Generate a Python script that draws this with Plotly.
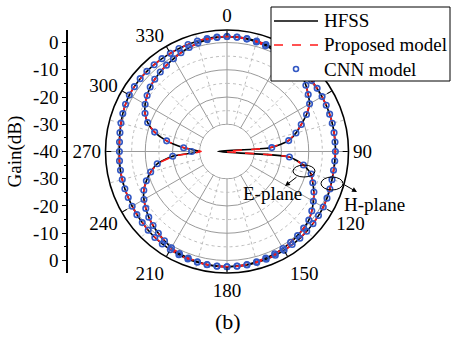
import plotly.graph_objects as go

W, H = 458, 339
FONT = "Liberation Serif"

# ---------------- data ----------------
theta = list(range(0, 365, 5))  # 0..360 deg, 5 deg step

hfss_H = [2.2, 2.2, 2.1, 2.0, 1.8, 1.6, 1.4, 1.2, 0.9, 0.7, 0.5, 0.4, 0.3, 0.2, 0.1, 0.0,
          -0.1, -0.2, -0.2, -0.3, -0.3, -0.1, 0.2, 0.5, 0.8, 1.0, 1.2, 1.4, 1.6, 1.7, 1.9,
          2.0, 2.1, 2.2, 2.3, 2.3, 2.3, 2.3, 2.2, 2.1, 2.0, 1.8, 1.6, 1.4, 1.2, 0.9, 0.6,
          0.4, 0.2, 0.0, -0.1, -0.2, -0.3, -0.4, -0.5, -0.4, -0.1, 0.3, 0.7, 1.1, 1.4, 1.5,
          1.6, 1.6, 1.6, 1.6, 1.6, 1.7, 1.8, 2.0, 2.1, 2.2, 2.2]
hfss_E = [2.2, 2.1, 1.9, 1.6, 1.3, 1.0, 0.7, 0.4, 0.0, -0.9, -2.2, -3.6, -5.0, -7.8, -11.0,
          -13.8, -17.0, -24.0, -43.3, -17.0, -11.5, -8.0, -6.5, -4.8, -3.4, -2.0, -0.8, -0.2,
          0.3, 0.7, 1.1, 1.4, 1.6, 1.9, 2.1, 2.2, 2.3, 2.2, 2.1, 1.9, 1.6, 1.3, 0.8, 0.0,
          -0.8, -1.6, -2.5, -3.6, -4.8, -6.3, -8.5, -11.0, -14.0, -20.0, -30.0, -24.0, -17.5,
          -12.5, -9.0, -6.8, -5.3, -4.2, -3.2, -2.5, -1.9, -1.3, -0.7, 0.0, 0.6, 1.2, 1.7,
          2.0, 2.2]

prop_H = [2.2, 2.2, 2.1, 2.0, 1.8, 1.6, 1.4, 1.1, 0.9, 0.7, 0.5, 0.4, 0.3, 0.2, 0.1, 0.0,
          -0.1, -0.2, -0.3, -0.3, -0.3, -0.1, 0.2, 0.5, 0.8, 1.0, 1.2, 1.4, 1.5, 1.7, 1.9,
          2.0, 2.1, 2.2, 2.3, 2.3, 2.3, 2.3, 2.2, 2.1, 2.0, 1.8, 1.6, 1.4, 1.1, 0.9, 0.6,
          0.4, 0.2, 0.0, -0.1, -0.2, -0.3, -0.4, -0.5, -0.4, -0.1, 0.3, 0.7, 1.1, 1.4, 1.5,
          1.6, 1.6, 1.6, 1.6, 1.6, 1.7, 1.8, 2.0, 2.1, 2.2, 2.2]
prop_E = [2.2, 2.1, 1.9, 1.6, 1.3, 1.0, 0.7, 0.4, 0.0, -0.9, -2.2, -3.6, -5.1, -7.8, -11.0,
          -13.9, -17.2, -24.5, -40.5, -17.3, -11.6, -8.0, -6.5, -4.8, -3.4, -2.0, -0.8, -0.2,
          0.3, 0.7, 1.1, 1.4, 1.6, 1.9, 2.1, 2.2, 2.3, 2.2, 2.1, 1.9, 1.6, 1.3, 0.8, 0.0,
          -0.8, -1.6, -2.5, -3.6, -4.8, -6.3, -8.5, -11.1, -14.2, -20.5, -30.5, -24.3, -17.6,
          -12.5, -9.0, -6.8, -5.3, -4.2, -3.2, -2.5, -1.9, -1.3, -0.7, 0.0, 0.6, 1.2, 1.7,
          2.0, 2.2]

cnn_theta = list(range(0, 360, 5))
cnn_H = [2.2, 2.2, 2.1, 2.0, 1.8, 1.6, 1.4, 1.2, 0.9, 0.7, 0.5, 0.4, 0.3, 0.2, 0.1, 0.0,
         -0.1, -0.2, -0.2, -0.3, -0.3, -0.1, 0.2, 0.5, 0.8, 1.0, 1.2, 1.4, 1.6, 1.7, 1.9,
         2.0, 2.1, 2.2, 2.3, 2.3, 2.3, 2.3, 2.2, 2.1, 2.0, 1.8, 1.6, 1.4, 1.2, 0.9, 0.6,
         0.4, 0.2, 0.0, -0.1, -0.2, -0.3, -0.4, -0.5, -0.4, -0.1, 0.3, 0.7, 1.1, 1.4, 1.5,
         1.6, 1.6, 1.6, 1.6, 1.6, 1.7, 1.8, 2.0, 2.1, 2.2]
cnn_E = [2.2, 2.1, 1.9, 1.6, 1.3, 1.0, 0.7, 0.4, 0.0, -0.9, -2.2, -3.6, -5.0, -7.8, -11.0,
         -13.8, -17.0, -23.5, None, -17.0, -11.5, -8.0, -6.5, -4.8, -3.4, -2.0, -0.8, -0.2,
         0.3, 0.7, 1.1, 1.4, 1.6, 1.9, 2.1, 2.2, 2.3, 2.2, 2.1, 1.9, 1.6, 1.3, 0.8, 0.0,
         -0.8, -1.6, -2.5, -3.6, -4.8, -6.3, -8.5, -11.0, -14.0, -20.0, -27.0, -24.0, -17.5,
         -12.5, -9.0, -6.8, -5.3, -4.2, -3.2, -2.5, -1.9, -1.3, -0.7, 0.0, 0.6, 1.2, 1.7,
         2.0]

series_names = ["HFSS", "Proposed model", "CNN model"]
r_min, r_max = -40, 4.6
angle_ticks = [0, 30, 60, 90, 120, 150, 180, 210, 240, 270, 300, 330]
# 30 and 60 are hidden behind the legend box in the original
angle_labels = ["0", "", "", "90", "120", "150", "180", "210", "240", "270", "300", "330"]
gain_tick_pos = [40, 30, 20, 10, 0, -10, -20, -30, -40]
gain_tick_text = ["0", "-10", "-20", "-30", "-40", "-30", "-20", "-10", "0"]

RED, BLUE = "#ff1a1a", "#3358c4"


def mirror(th, rr):
    """Values below the radial minimum are drawn on the opposite side (as in the original)."""
    ot, orr = [], []
    for t, v in zip(th, rr):
        if v is not None and v < r_min:
            ot.append((t + 180) % 360)
            orr.append(2 * r_min - v)
        else:
            ot.append(t)
            orr.append(v)
    return ot, orr


# ---------------- geometry ----------------
CX, CY, R = 227, 151.5, 121.5
px = lambda x: x / W
py = lambda y: 1 - y / H
dom_x = [px(CX - R), px(CX + R)]
dom_y = [py(CY + R), py(CY - R)]

fig = go.Figure()

# white centre disc (no grid inside the -30 dB ring)
circ_t = list(range(0, 362, 2))
fig.add_trace(go.Scatterpolar(theta=circ_t, r=[-30.2] * len(circ_t), mode="lines",
                              fill="toself", fillcolor="white", line=dict(width=0),
                              hoverinfo="skip", showlegend=False))
# dotted minor rings
for rv in [-25, -15, -5]:
    fig.add_trace(go.Scatterpolar(theta=circ_t, r=[rv] * len(circ_t), mode="lines",
                                  line=dict(color="#bdbdbd", width=1, dash="dot"),
                                  hoverinfo="skip", showlegend=False))
# dotted minor spokes
sp_t, sp_r = [], []
for a in range(15, 360, 30):
    sp_t += [a, a, None]
    sp_r += [-30, r_max, None]
fig.add_trace(go.Scatterpolar(theta=sp_t, r=sp_r, mode="lines",
                              line=dict(color="#bdbdbd", width=1, dash="dot"),
                              hoverinfo="skip", showlegend=False))

LS = dict(shape="spline", smoothing=0.6)
# HFSS
t, r = mirror(theta, hfss_E)
fig.add_trace(go.Scatterpolar(theta=t, r=r, mode="lines", name=series_names[0],
                              line=dict(color="black", width=1.6, **LS)))
fig.add_trace(go.Scatterpolar(theta=theta, r=hfss_H, mode="lines", name=series_names[0],
                              line=dict(color="black", width=1.6, **LS)))
# Proposed model
t, r = mirror(theta, prop_E)
fig.add_trace(go.Scatterpolar(theta=t, r=r, mode="lines", name=series_names[1],
                              line=dict(color=RED, width=1.6, dash="dash", **LS)))
fig.add_trace(go.Scatterpolar(theta=theta, r=prop_H, mode="lines", name=series_names[1],
                              line=dict(color=RED, width=1.6, dash="dash", **LS)))
# CNN model
mk = dict(symbol="circle-open", size=5.5, color=BLUE, line=dict(width=1.6, color=BLUE))
fig.add_trace(go.Scatterpolar(theta=cnn_theta, r=cnn_E, mode="markers", name=series_names[2],
                              marker=mk))
fig.add_trace(go.Scatterpolar(theta=cnn_theta, r=cnn_H, mode="markers", name=series_names[2],
                              marker=mk))

# invisible cartesian trace to host the Gain axis
fig.add_trace(go.Scatter(x=[0.5], y=[0], mode="markers", marker=dict(opacity=0),
                         hoverinfo="skip", xaxis="x", yaxis="y"))

fig.update_layout(
    width=W, height=H,
    margin=dict(l=0, r=0, t=0, b=0),
    paper_bgcolor="white", plot_bgcolor="rgba(0,0,0,0)",
    font=dict(family=FONT, size=19, color="black"),
    showlegend=False,
    polar=dict(
        domain=dict(x=dom_x, y=dom_y),
        bgcolor="white",
        radialaxis=dict(range=[r_min, r_max], tick0=-40, dtick=10, showticklabels=False,
                        ticks="", showline=False, gridcolor="#9a9a9a", gridwidth=1),
        angularaxis=dict(rotation=90, direction="clockwise", tickmode="array",
                         tickvals=angle_ticks, ticktext=angle_labels,
                         showline=True, linecolor="black", linewidth=1.6,
                         ticks="inside", ticklen=5, tickwidth=1.2, tickcolor="black",
                         gridcolor="#9a9a9a", gridwidth=1,
                         tickfont=dict(family=FONT, size=19, color="black")),
    ),
    xaxis=dict(domain=[px(68), px(70)], range=[0, 1], visible=False, fixedrange=True),
    yaxis=dict(domain=dom_y, range=[-(r_max - r_min), r_max - r_min], anchor="x",
               tickmode="array", tickvals=gain_tick_pos, ticktext=gain_tick_text,
               ticks="outside", ticklen=4, tickwidth=1.2, tickcolor="black",
               minor=dict(dtick=5, tick0=0, ticks="outside", ticklen=2, tickcolor="black"),
               showline=True, linecolor="black", linewidth=1.5, showgrid=False, zeroline=False,
               automargin=False,
               tickfont=dict(family=FONT, size=19, color="black"), fixedrange=True),
)

# ---------------- legend box (compact, as in the original) ----------------
LX0, LX1, LY0, LY1 = 271, 450, 7, 81
row_y = [21, 45, 69]
shapes = [
    dict(type="rect", x0=px(LX0), x1=px(LX1), y0=py(LY1), y1=py(LY0),
         fillcolor="white", line=dict(color="black", width=1), layer="above"),
    dict(type="line", x0=px(274), x1=px(318), y0=py(row_y[0]), y1=py(row_y[0]),
         line=dict(color="black", width=1.6), layer="above"),
    dict(type="line", x0=px(274), x1=px(318), y0=py(row_y[1]), y1=py(row_y[1]),
         line=dict(color=RED, width=1.6, dash="dash"), layer="above"),
    dict(type="circle", x0=px(293.5), x1=px(298.5), y0=py(row_y[2] + 2.5), y1=py(row_y[2] - 2.5),
         line=dict(color=BLUE, width=1.6), layer="above"),
    # E-plane / H-plane ellipses
    dict(type="circle", x0=px(293), x1=px(315), y0=py(177), y1=py(165),
         line=dict(color="black", width=1)),
    dict(type="circle", x0=px(321), x1=px(343), y0=py(190), y1=py(177),
         line=dict(color="black", width=1)),
]
for s in shapes:
    s["xref"] = "paper"
    s["yref"] = "paper"

ann = [
    dict(x=px(15), y=py(151.5), text="Gain(dB)", textangle=-90, showarrow=False,
         font=dict(size=19)),
    dict(x=px(228), y=py(321), text="(b)", showarrow=False, font=dict(size=22)),
    dict(x=px(272), y=py(193), text="E-plane", showarrow=False, font=dict(size=19)),
    dict(x=px(374), y=py(204), text="H-plane", showarrow=False, font=dict(size=19)),
    dict(x=px(285), y=py(186), ax=13, ay=-10, text="", showarrow=True, arrowhead=2,
         arrowsize=1, arrowwidth=1, arrowcolor="black"),
    dict(x=px(357), y=py(192), ax=-14, ay=-8, text="", showarrow=True, arrowhead=2,
         arrowsize=1, arrowwidth=1, arrowcolor="black"),
]
for name, yy in zip(series_names, row_y):
    ann.append(dict(x=px(322), y=py(yy), text=name, showarrow=False, xanchor="left",
                    font=dict(size=19)))
for a in ann:
    a.setdefault("xref", "paper")
    a.setdefault("yref", "paper")
    a.setdefault("xanchor", "center")
    a.setdefault("yanchor", "middle")

fig.update_layout(annotations=ann, shapes=shapes)

fig.write_html("out.html")
